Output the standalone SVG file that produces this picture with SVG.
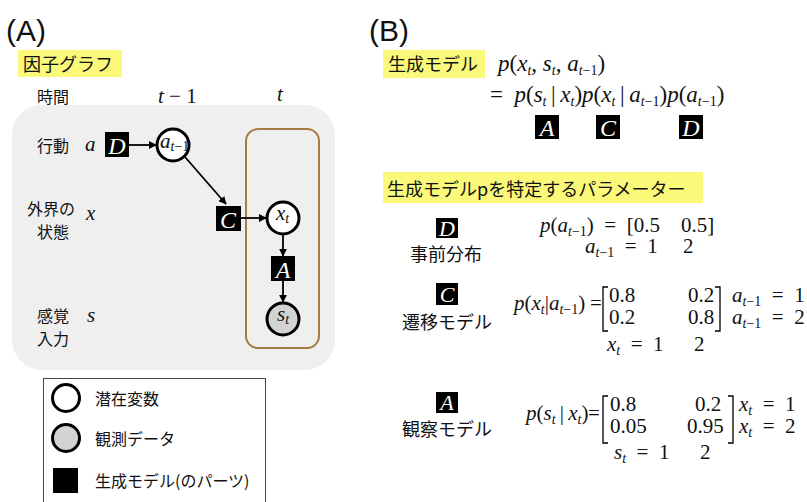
<svg xmlns="http://www.w3.org/2000/svg" width="807" height="502" viewBox="0 0 807 502">
<defs>
<marker id="ah" viewBox="0 0 10 10" refX="9" refY="5" markerWidth="8" markerHeight="8" markerUnits="userSpaceOnUse" orient="auto">
<path d="M0,0 L10,5 L0,10 z" fill="#000"/>
</marker>
</defs>
<style>
.jp{font-family:"Noto Sans CJK JP","Liberation Sans",sans-serif;fill:#111}
.big{font-family:"Liberation Sans",sans-serif;font-size:30px;fill:#111}
.m{font-family:"Liberation Serif",serif;font-size:21px;fill:#111}
.mt{font-family:"Liberation Serif",serif;font-size:23px;fill:#111}
.i{font-style:italic}
.s{font-size:14px;font-style:italic}
.su{font-size:14px;font-style:normal}
.hl{fill:#fbf97a}
.box{fill:#000}
.bl{font-family:"Liberation Serif",serif;font-style:italic;font-size:24px;fill:#fff;text-anchor:middle}
.bs{font-family:"Liberation Serif",serif;font-style:italic;font-size:22px;fill:#fff;text-anchor:middle}
.node{stroke:#000;stroke-width:3}
.ln{stroke:#000;stroke-width:1.8;fill:none}
.br{stroke:#000;stroke-width:1.3;fill:none}
</style>

<!-- Panel A -->
<text class="big" x="6" y="41">(A)</text>
<rect class="hl" x="18" y="50" width="104" height="27"/>
<text class="jp" x="23" y="71" font-size="18">因子グラフ</text>
<text class="jp" x="37" y="103" font-size="16">時間</text>
<text class="m" x="158" y="103" font-size="18"><tspan class="i">t</tspan> − 1</text>
<text class="m i" x="277" y="101" font-size="18">t</text>

<rect x="12" y="105" width="323" height="265" rx="30" fill="#efefef"/>
<rect x="246" y="129" width="73" height="219" rx="12" fill="none" stroke="#a67c45" stroke-width="2"/>

<text class="jp" x="37" y="152" font-size="16">行動</text>
<text class="m i" x="85" y="151" font-size="17">a</text>
<text class="jp" x="27" y="215" font-size="16">外界の</text>
<text class="jp" x="37" y="238" font-size="16">状態</text>
<text class="m i" x="86" y="220" font-size="17">x</text>
<text class="jp" x="37" y="322" font-size="16">感覚</text>
<text class="jp" x="37" y="345" font-size="16">入力</text>
<text class="m i" x="87" y="322" font-size="17">s</text>

<g id="conn">
<line class="ln" x1="129" y1="145" x2="156" y2="145" marker-end="url(#ah)"/>
<line class="ln" x1="185" y1="157" x2="226" y2="204" marker-end="url(#ah)"/>
<line class="ln" x1="241" y1="218" x2="266" y2="218" marker-end="url(#ah)"/>
<line class="ln" x1="283" y1="234" x2="283" y2="256" marker-end="url(#ah)"/>
<line class="ln" x1="283" y1="281" x2="283" y2="302" marker-end="url(#ah)"/>
</g>

<g id="nD">
<rect class="box" x="105" y="132" width="24" height="25"/>
<text class="bl" x="117" y="154">D</text>
</g>
<g id="na">
<circle class="node" cx="173" cy="145" r="16" fill="#fff"/>
<text class="m" x="160" y="148" font-size="15"><tspan class="i">a</tspan><tspan class="s" font-size="10" dy="3">t</tspan><tspan class="su" font-size="10">−1</tspan></text>
</g>
<g id="nC">
<rect class="box" x="216" y="206" width="25" height="25"/>
<text class="bl" x="228" y="228">C</text>
</g>
<g id="nx">
<circle class="node" cx="283" cy="218" r="16" fill="#fff"/>
<text class="m" x="276" y="220" font-size="14"><tspan class="i">x</tspan><tspan class="s" font-size="10" dy="3">t</tspan></text>
</g>
<g id="nA">
<rect class="box" x="271" y="256" width="24" height="25"/>
<text class="bl" x="283" y="278">A</text>
</g>
<g id="ns">
<circle class="node" cx="283" cy="319" r="16" fill="#d3d3d3"/>
<text class="m" x="277" y="321" font-size="14"><tspan class="i">s</tspan><tspan class="s" font-size="10" dy="3">t</tspan></text>
</g>

<!-- Legend -->
<g id="legend">
<rect x="43.5" y="378.5" width="222" height="140" fill="#fff" stroke="#444" stroke-width="1"/>
<circle class="node" cx="66" cy="398" r="13.5" fill="#fff"/>
<text class="jp" x="95" y="405" font-size="16">潜在変数</text>
<circle class="node" cx="66" cy="438" r="13.5" fill="#d3d3d3"/>
<text class="jp" x="95" y="445" font-size="16">観測データ</text>
<rect class="box" x="53" y="468" width="25" height="25"/>
<text class="jp" x="95" y="487" font-size="16">生成モデル(のパーツ)</text>
</g>

<!-- Panel B -->
<text class="big" x="369" y="41">(B)</text>
<rect class="hl" x="383" y="50" width="102" height="28"/>
<text class="jp" x="388" y="71" font-size="18">生成モデル</text>
<text class="mt" x="498" y="71"><tspan class="i">p</tspan>(<tspan class="i">x</tspan><tspan class="s" font-size="15" dy="4">t</tspan><tspan dy="-4">, </tspan><tspan class="i">s</tspan><tspan class="s" font-size="15" dy="4">t</tspan><tspan dy="-4">, </tspan><tspan class="i">a</tspan><tspan class="s" font-size="15" dy="4">t</tspan><tspan class="su" font-size="15">−1</tspan><tspan dy="-4">)</tspan></text>
<text class="mt" x="490" y="102">=&#8194;<tspan class="i">p</tspan>(<tspan class="i">s</tspan><tspan class="s" font-size="15" dy="4">t</tspan><tspan dy="-4">&#8201;|&#8201;</tspan><tspan class="i">x</tspan><tspan class="s" font-size="15" dy="4">t</tspan><tspan dy="-4">)</tspan><tspan class="i">p</tspan>(<tspan class="i">x</tspan><tspan class="s" font-size="15" dy="4">t</tspan><tspan dy="-4">&#8201;|&#8201;</tspan><tspan class="i">a</tspan><tspan class="s" font-size="15" dy="4">t</tspan><tspan class="su" font-size="15">−1</tspan><tspan dy="-4">)</tspan><tspan class="i">p</tspan>(<tspan class="i">a</tspan><tspan class="s" font-size="15" dy="4">t</tspan><tspan class="su" font-size="15">−1</tspan><tspan dy="-4">)</tspan></text>
<g id="fA"><rect class="box" x="535" y="115" width="24" height="24"/><text class="bl" x="547" y="136">A</text></g>
<g id="fC"><rect class="box" x="596" y="115" width="24" height="24"/><text class="bl" x="608" y="136">C</text></g>
<g id="fD"><rect class="box" x="679" y="115" width="24" height="24"/><text class="bl" x="691" y="136">D</text></g>

<rect class="hl" x="383" y="172" width="320" height="31"/>
<text class="jp" x="387" y="196" font-size="18">生成モデルpを特定するパラメーター</text>

<!-- D prior -->
<g id="pD">
<rect class="box" x="436" y="218" width="22" height="20"/>
<text class="bs" x="447" y="236">D</text>
<text class="jp" x="410" y="261" font-size="18">事前分布</text>
</g>
<text class="m" x="540" y="232"><tspan class="i">p</tspan>(<tspan class="i">a</tspan><tspan class="s" dy="4">t</tspan><tspan class="su">−1</tspan><tspan dy="-4">)&#8194;=&#8194;[0.5</tspan></text>
<text class="m" x="681" y="232">0.5]</text>
<text class="m" x="585" y="253"><tspan class="i">a</tspan><tspan class="s" dy="4">t</tspan><tspan class="su">−1</tspan><tspan dy="-4">&#8194;=&#8194;1</tspan></text>
<text class="m" x="683" y="253">2</text>

<!-- C transition -->
<g id="pC">
<rect class="box" x="436" y="283" width="22" height="22"/>
<text class="bs" x="447" y="302">C</text>
<text class="jp" x="402" y="329" font-size="18">遷移モデル</text>
</g>
<text class="m" x="514" y="310"><tspan class="i">p</tspan>(<tspan class="i">x</tspan><tspan class="s" font-size="13" dy="4">t</tspan><tspan dy="-4">|</tspan><tspan class="i">a</tspan><tspan class="s" font-size="13" dy="4">t</tspan><tspan class="su" font-size="13">−1</tspan><tspan dy="-4">)</tspan></text>
<text class="m" x="590" y="310">=</text>
<path class="br" d="M608,287 H603 V331 H608"/>
<path class="br" d="M715,287 H720 V331 H715"/>
<text class="m" x="609" y="302">0.8</text>
<text class="m" x="688" y="302">0.2</text>
<text class="m" x="609" y="324">0.2</text>
<text class="m" x="688" y="324">0.8</text>
<text class="m" x="732" y="302"><tspan class="i">a</tspan><tspan class="s" dy="4">t</tspan><tspan class="su">−1</tspan><tspan dy="-4">&#8194;=&#8194;1</tspan></text>
<text class="m" x="732" y="324"><tspan class="i">a</tspan><tspan class="s" dy="4">t</tspan><tspan class="su">−1</tspan><tspan dy="-4">&#8194;=&#8194;2</tspan></text>
<text class="m" x="607" y="351"><tspan class="i">x</tspan><tspan class="s" dy="4">t</tspan><tspan dy="-4">&#8194;=&#8194;1</tspan></text>
<text class="m" x="694" y="351">2</text>

<!-- A observation -->
<g id="pA">
<rect class="box" x="436" y="392" width="22" height="21"/>
<text class="bs" x="447" y="410">A</text>
<text class="jp" x="402" y="436" font-size="18">観察モデル</text>
</g>
<text class="m" x="526" y="420"><tspan class="i">p</tspan>(<tspan class="i">s</tspan><tspan class="s" font-size="13" dy="4">t</tspan><tspan dy="-4">&#8201;|&#8201;</tspan><tspan class="i">x</tspan><tspan class="s" font-size="13" dy="4">t</tspan><tspan dy="-4">)</tspan></text>
<text class="m" x="588" y="420">=</text>
<path class="br" d="M608,396 H603 V443 H608"/>
<path class="br" d="M728,396 H733 V443 H728"/>
<text class="m" x="610" y="411">0.8</text>
<text class="m" x="695" y="411">0.2</text>
<text class="m" x="610" y="433">0.05</text>
<text class="m" x="687" y="433">0.95</text>
<text class="m" x="739" y="411"><tspan class="i">x</tspan><tspan class="s" dy="4">t</tspan><tspan dy="-4">&#8194;=&#8194;1</tspan></text>
<text class="m" x="739" y="433"><tspan class="i">x</tspan><tspan class="s" dy="4">t</tspan><tspan dy="-4">&#8194;=&#8194;2</tspan></text>
<text class="m" x="614" y="459"><tspan class="i">s</tspan><tspan class="s" dy="4">t</tspan><tspan dy="-4">&#8194;=&#8194;1</tspan></text>
<text class="m" x="700" y="459">2</text>
</svg>
